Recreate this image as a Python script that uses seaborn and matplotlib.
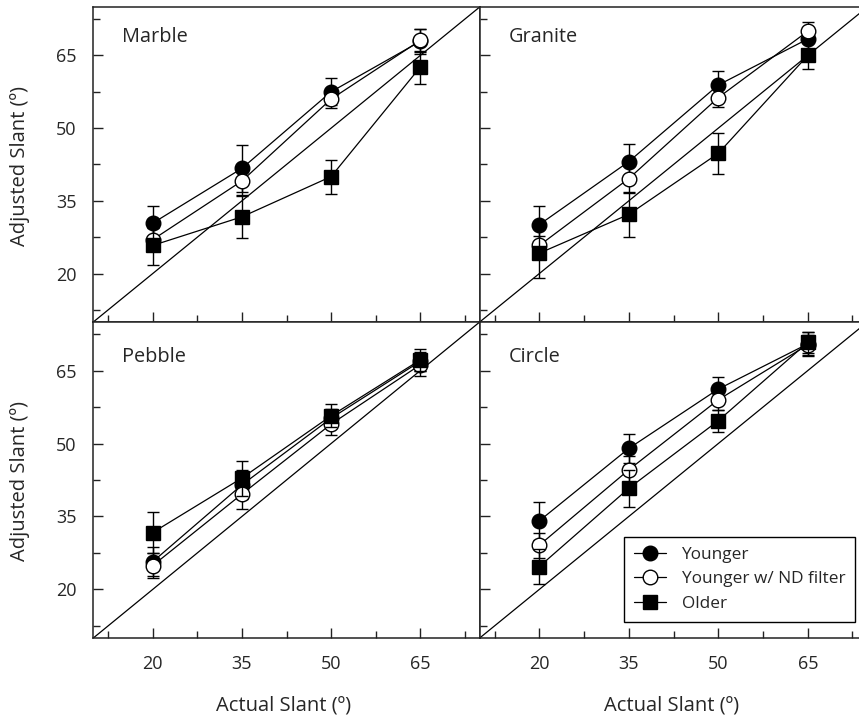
import numpy as np
import pandas as pd
import matplotlib
matplotlib.use("Agg")
import matplotlib.pyplot as plt
from matplotlib.lines import Line2D
from matplotlib.ticker import FixedLocator
import seaborn as sns

# ---- data -----------------------------------------------------------------
actual = [20, 35, 50, 65]
groups = ["Younger", "Younger w/ ND filter", "Older"]
surfaces = ["Marble", "Granite", "Pebble", "Circle"]

# mean adjusted slant per surface, group order as in `groups`
marble_mean = [[30.4, 41.7, 57.5, 67.9],
               [27.0, 39.1, 56.0, 68.1],
               [25.8, 31.7, 40.0, 62.6]]
marble_se = [[3.5, 4.8, 2.8, 2.6],
             [2.3, 2.8, 1.9, 2.3],
             [4.1, 4.3, 3.5, 3.4]]

granite_mean = [[30.1, 43.1, 58.9, 68.4],
                [25.8, 39.6, 56.3, 70.0],
                [24.2, 32.2, 44.8, 65.0]]
granite_se = [[3.9, 3.6, 2.9, 2.0],
              [1.9, 3.0, 1.9, 1.9],
              [5.1, 4.6, 4.3, 2.8]]

pebble_mean = [[25.7, 41.5, 55.2, 66.9],
               [24.9, 39.6, 54.0, 66.2],
               [31.7, 42.9, 55.7, 67.2]]
pebble_se = [[3.0, 3.0, 2.0, 2.0],
             [2.6, 3.1, 2.2, 2.3],
             [4.2, 3.6, 2.4, 2.2]]

circle_mean = [[34.1, 49.0, 61.2, 70.5],
               [29.1, 44.6, 59.0, 70.3],
               [24.7, 40.8, 54.7, 70.8]]
circle_se = [[3.9, 3.0, 2.4, 2.5],
             [2.6, 2.8, 2.0, 2.0],
             [3.6, 3.8, 2.3, 2.2]]

panel_means = [marble_mean, granite_mean, pebble_mean, circle_mean]
panel_ses = [marble_se, granite_se, pebble_se, circle_se]

rows = []
for surf, means, ses in zip(surfaces, panel_means, panel_ses):
    for g, m, s in zip(groups, means, ses):
        for a, mv, sv in zip(actual, m, s):
            rows.append(dict(surface=surf, group=g, actual=a, adjusted=mv, se=sv))
df = pd.DataFrame(rows)

# ---- style ----------------------------------------------------------------
sns.set_style("white")
plt.rcParams["font.family"] = ["Open Sans", "DejaVu Sans"]
plt.rcParams["axes.linewidth"] = 1.1
plt.rcParams["axes.edgecolor"] = "#222222"

group_style = {
    "Younger": dict(marker="o", mfc="black", ms=10.5),
    "Younger w/ ND filter": dict(marker="o", mfc="white", ms=10.5),
    "Older": dict(marker="s", mfc="black", ms=9.5),
}

W, H = 859, 717
fig = plt.figure(figsize=(W / 100, H / 100), dpi=100)

# panel boxes in pixels: left, top, right, bottom
px = {
    "Marble": (93.3, 7.0, 479.7, 322.0),
    "Granite": (479.7, 7.0, 867.4, 322.0),
    "Pebble": (93.3, 322.0, 479.7, 638.0),
    "Circle": (479.7, 322.0, 867.4, 638.0),
}
title_y = {"Marble": 0.905, "Granite": 0.905, "Pebble": 0.89, "Circle": 0.89}

lo, hi = 10, 75
axes = {}
for i, surf in enumerate(surfaces):
    l, t, r, b = px[surf]
    ax = fig.add_axes([l / W, 1 - b / H, (r - l) / W, (b - t) / H])
    axes[surf] = ax
    sub = df[df.surface == surf]

    # identity line
    ax.plot([lo, hi], [lo, hi], color="black", lw=0.9, zorder=1)

    for k, g in enumerate(groups):
        d = sub[sub.group == g]
        st = group_style[g]
        ax.errorbar(d.actual, d.adjusted, yerr=d.se, fmt="none", ecolor="black",
                    elinewidth=1.0, capsize=4.6, capthick=1.0, zorder=2 + 2 * k)
        sns.lineplot(data=d, x="actual", y="adjusted", ax=ax, color="black",
                     lw=0.9, marker=st["marker"], markersize=st["ms"],
                     markerfacecolor=st["mfc"], markeredgecolor="black",
                     markeredgewidth=1.0, estimator=None, sort=False,
                     legend=False, zorder=3 + 2 * k)

    ax.set_xlim(lo, hi)
    ax.set_ylim(lo, hi)
    ax.xaxis.set_major_locator(FixedLocator(actual))
    ax.yaxis.set_major_locator(FixedLocator(actual))
    minors = [12.5, 27.5, 42.5, 57.5, 72.5]
    ax.xaxis.set_minor_locator(FixedLocator(minors))
    ax.yaxis.set_minor_locator(FixedLocator(minors))
    ax.tick_params(which="major", direction="in", length=7, width=1.0,
                   color="#222222", labelsize=13, pad=12,
                   bottom=True, left=True, top=False, right=False)
    ax.tick_params(which="minor", direction="in", length=5, width=1.0,
                   color="#222222", bottom=True, left=True, top=False, right=False)
    ax.set_xlabel("")
    ax.set_ylabel("")
    if surf in ("Marble", "Granite"):
        ax.tick_params(labelbottom=False)
    if surf in ("Granite", "Circle"):
        ax.tick_params(labelleft=False)
    for sp in ax.spines.values():
        sp.set_visible(True)

    ax.text(0.075, title_y[surf], surf, transform=ax.transAxes, fontsize=14.3,
            ha="left", va="center")

# axis titles
for y_px in (166.0, 481.0):
    fig.text(20 / W, 1 - y_px / H, "Adjusted Slant (º)", rotation=90,
             fontsize=14.5, ha="center", va="center")
for x_px in (284.0, 672.0):
    fig.text(x_px / W, 1 - 705 / H, "Actual Slant (º)", fontsize=14.5,
             ha="center", va="center")

# legend in the Circle panel
handles = [Line2D([], [], color="black", lw=0.9, marker=group_style[g]["marker"],
                  markersize=group_style[g]["ms"], markerfacecolor=group_style[g]["mfc"],
                  markeredgecolor="black", markeredgewidth=1.0) for g in groups]
leg = axes["Circle"].legend(handles, groups, loc="lower right",
                            bbox_to_anchor=(0.968, 0.052), borderaxespad=0,
                            fontsize=12.4, handlelength=1.9, handletextpad=0.9,
                            labelspacing=0.5, borderpad=0.55, frameon=True,
                            fancybox=False, edgecolor="black", framealpha=1)
leg.get_frame().set_linewidth(1.0)

fig.savefig("out.png", dpi=100)
